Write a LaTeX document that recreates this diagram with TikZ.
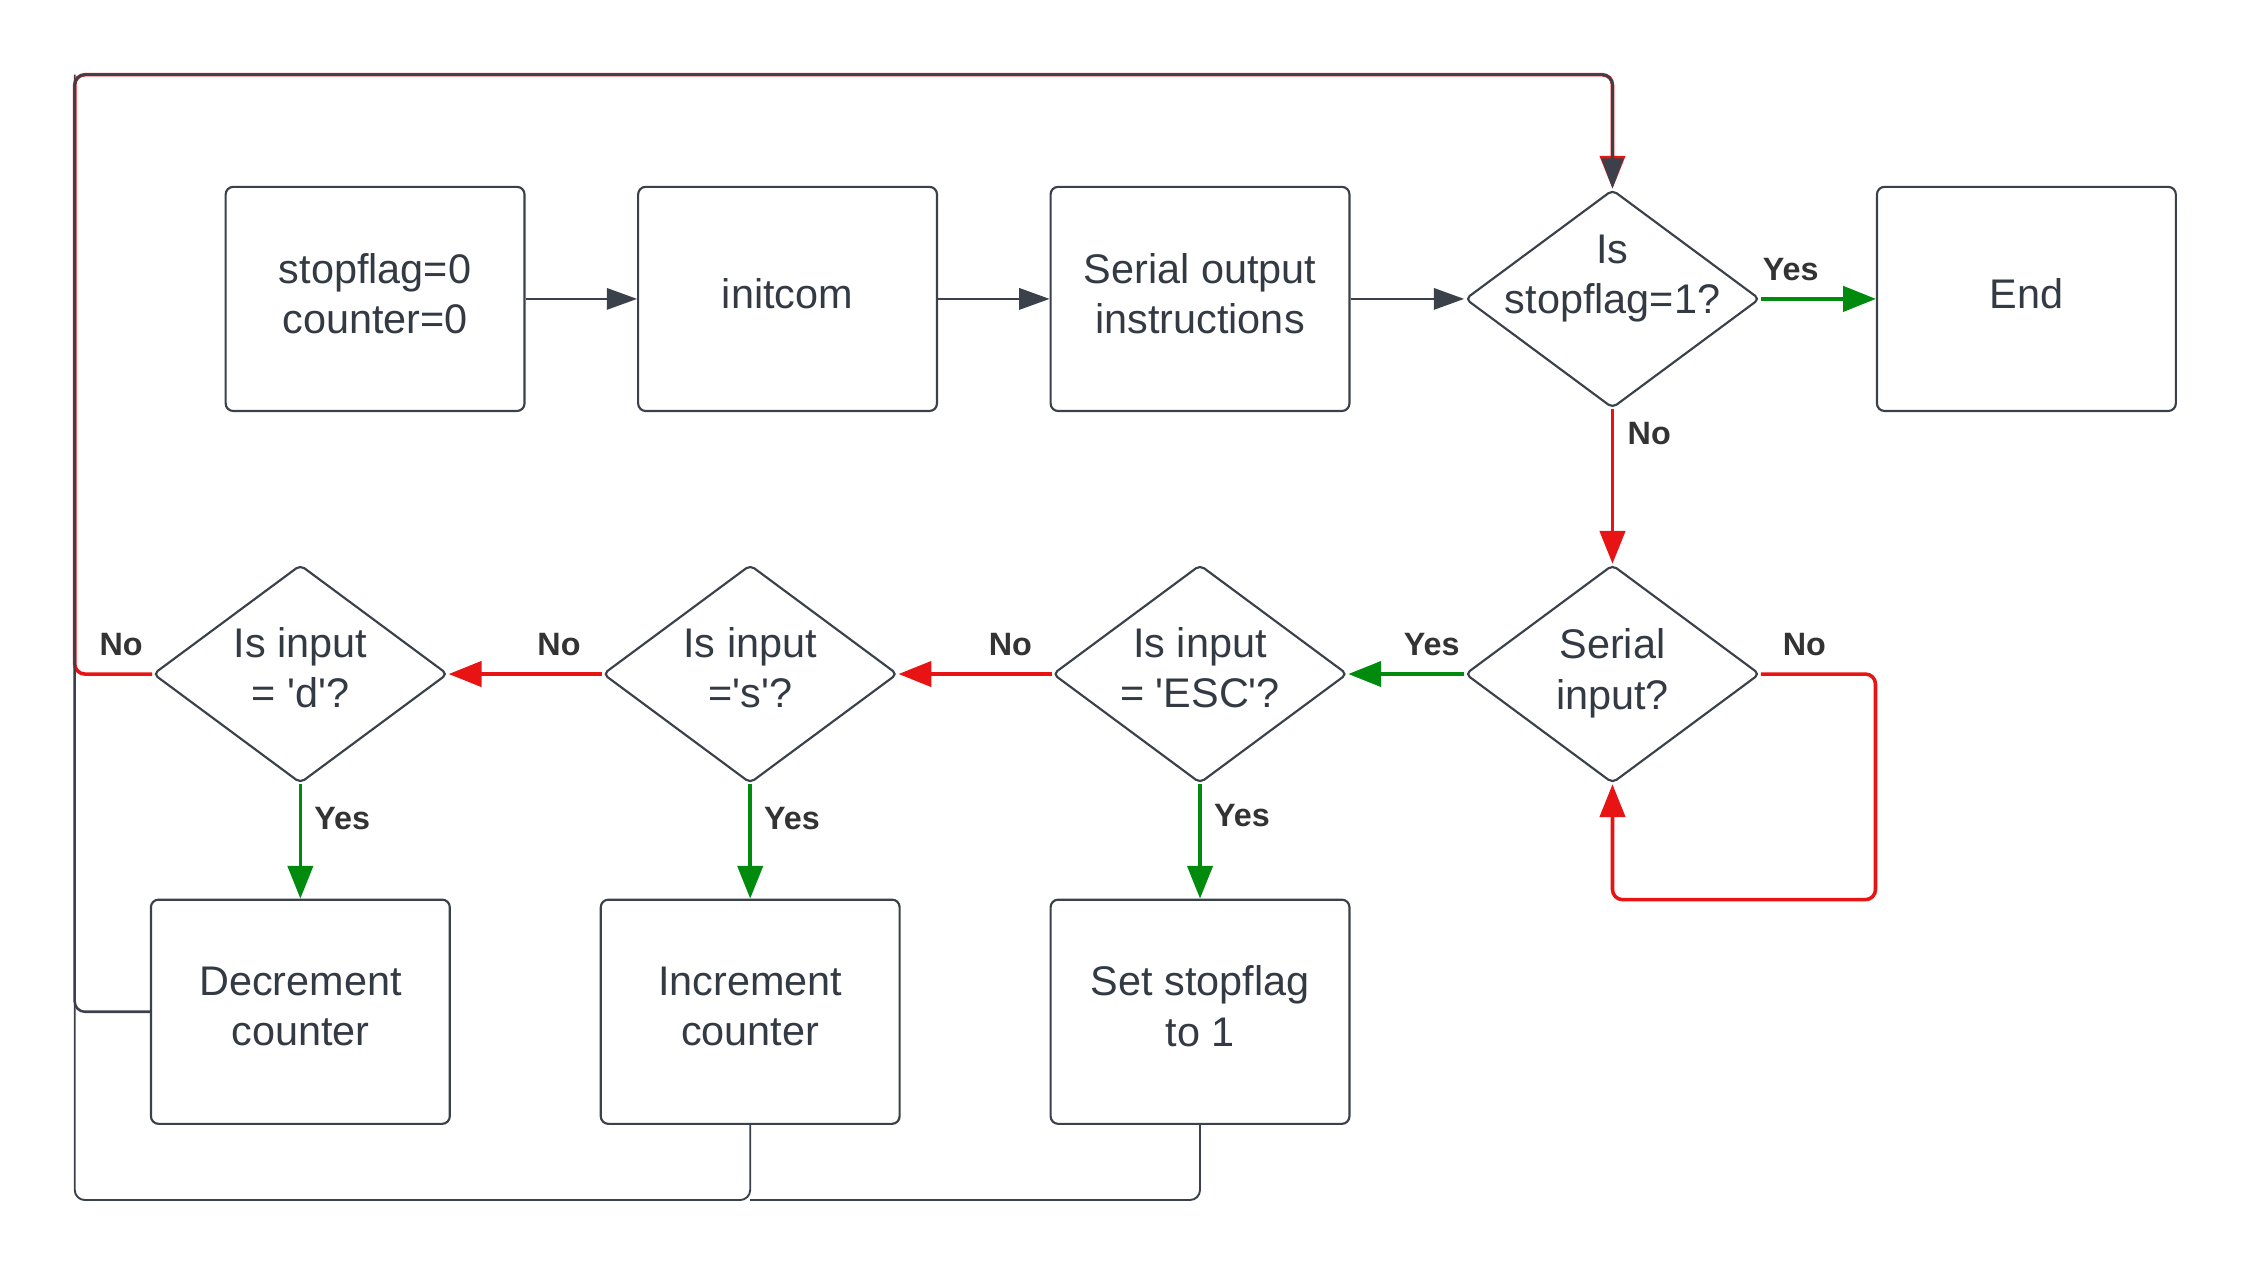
\documentclass[tikz,border=0pt]{standalone}
\usepackage{fontspec}
\setmainfont{Liberation Sans}[Ligatures=TeXOff]
\usetikzlibrary{shapes.geometric,arrows.meta}
\definecolor{lnc}{HTML}{3A414A}
\definecolor{txtc}{HTML}{333A44}
\definecolor{nored}{HTML}{E81414}
\definecolor{yesgreen}{HTML}{008A0E}

\begin{document}
\begin{tikzpicture}[x=0.02cm,y=-0.02cm,
  font=\fontsize{16.4}{19.9}\selectfont, text=txtc,
  box/.style={draw=lnc,line width=0.85pt,rounded corners=3pt,minimum width=4.16cm,
    minimum height=3.12cm,inner sep=0pt,align=center,text depth=4.5pt},
  dec/.style={draw=lnc,line width=0.85pt,shape=diamond,rounded corners=2pt,
    minimum width=4.1cm,minimum height=3.04cm,inner sep=0pt},
  dtxt/.style={align=center,inner sep=0pt,yshift=0.09cm},
  lab/.style={font=\fontsize{12.8}{14}\selectfont\bfseries,text=black!80},
  tip/.style={-{Triangle[length=12pt,width=8.5pt]}},
  ctip/.style={-{Triangle[length=13pt,width=10pt]}},
  ln/.style={lnc,line width=0.75pt,rounded corners=4pt},
  rd/.style={nored,line width=1.4pt,rounded corners=4pt,ctip},
  gn/.style={yesgreen,line width=1.4pt,ctip}]
  \useasboundingbox (0,0) rectangle (1567,888.6);

  % top row
  \node[box] (init) at (261,208) {stopflag=0\\counter=0};
  \node[box] (com)  at (548,208) {initcom};
  \node[box] (sout) at (835,208) {Serial output\\instructions};
  \node[dec] (qstop) at (1122,208) {};
  \node[dtxt,yshift=0.19cm] (tstop) at (qstop) {Is\\stopflag=1?};
  \node[box] (fin)  at (1410,208) {End};

  % decisions
  \node[dec] (qin)  at (1122,469) {};
  \node[dtxt,yshift=-0.08cm] (tin) at (qin) {Serial\\input?};
  \node[dec] (qesc) at (835,469) {};
  \node[dtxt] (tesc) at (qesc) {Is input\\= \textquotesingle ESC\textquotesingle ?};
  \node[dec] (qs)   at (522,469) {};
  \node[dtxt] (ts) at (qs) {Is input\\=\textquotesingle s\textquotesingle ?};
  \node[dec] (qd)   at (209,469) {};
  \node[dtxt] (td) at (qd) {Is input\\= \textquotesingle d\textquotesingle ?};

  % actions
  \node[box] (dcnt) at (209,704) {Decrement\\counter};
  \node[box] (icnt) at (522,704) {Increment\\counter};
  \node[box] (sset) at (835,704) {Set stopflag\\to 1};

  \coordinate (ctl) at (52,52);
  \coordinate (cbl) at (52,835);
  \coordinate (loop) at (1305,626);

  \draw[ln,tip] (init) -- (com);
  \draw[ln,tip] (com) -- (sout);
  \draw[ln,tip] (sout) -- (qstop);
  \draw[gn] (qstop) -- node[lab,above=3pt,pos=0.26] {Yes} (fin);
  \draw[rd] (qstop) -- node[lab,right=2pt,pos=0.16] {No} (qin);
  \draw[rd] (qin.east) -| node[lab,above=3pt,pos=0.19] {No} (loop) -| (qin.south);
  \draw[gn] (qin) -- node[lab,above=3pt,pos=0.28] {Yes} (qesc);
  \draw[rd] (qesc) -- node[lab,above=3pt,pos=0.27] {No} (qs);
  \draw[rd] (qs) -- node[lab,above=3pt,pos=0.28] {No} (qd);
  \draw[gn] (qd) -- node[lab,right=1.5pt,pos=0.3] {Yes} (dcnt);
  \draw[gn] (qs) -- node[lab,right=1.5pt,pos=0.3] {Yes} (icnt);
  \draw[gn] (qesc) -- node[lab,right=1.5pt,pos=0.27] {Yes} (sset);

  % back to the test
  \draw[ln] (sset.south) |- (icnt.south |- cbl);
  \draw[ln] (icnt.south) |- (cbl) -- (ctl);
  \draw[rd] (qd.west) -| node[lab,above=3pt,pos=0.2] {No} (ctl) -| (qstop.north);
  \draw[ln,line width=1pt,tip] (dcnt.west) -| (ctl) -| (qstop.north);
\end{tikzpicture}
\end{document}
